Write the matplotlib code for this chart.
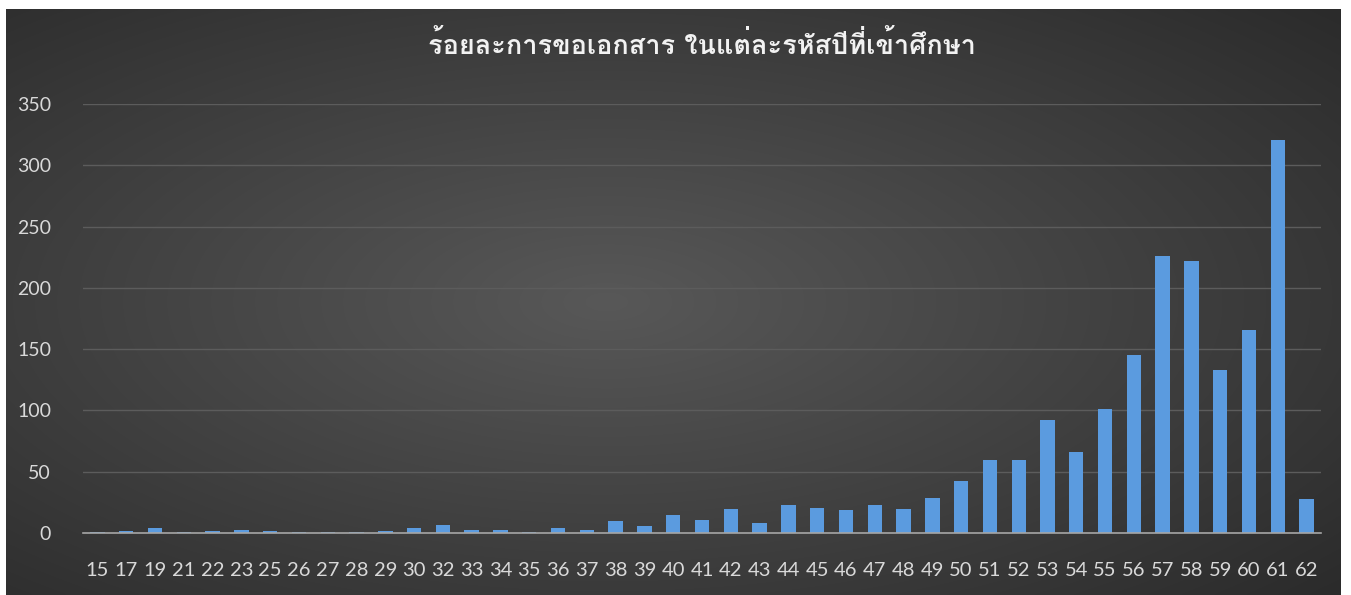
import numpy as np
import matplotlib
matplotlib.use('Agg')
import matplotlib.pyplot as plt
from matplotlib import font_manager

# student year codes and percentage of document requests
years = ['15', '17', '19', '21', '22', '23', '25', '26', '27', '28', '29', '30',
         '32', '33', '34', '35', '36', '37', '38', '39', '40', '41', '42', '43',
         '44', '45', '46', '47', '48', '49', '50', '51', '52', '53', '54', '55',
         '56', '57', '58', '59', '60', '61', '62']
values = [0.5, 1.6, 4.4, 0.5, 1.6, 2.2, 1.5, 0.5, 0.5, 0.5, 1.5, 4.2,
          6.2, 2.2, 2.2, 0.5, 3.8, 2.4, 9.8, 5.7, 14.7, 10.6, 19.8, 7.9,
          22.6, 20.4, 18.5, 22.6, 19.8, 28.5, 42.4, 59.9, 59.9, 92.5, 65.8, 101,
          145, 225.7, 221.9, 133, 166, 321, 27.7]
title = 'ร้อยละการขอเอกสาร ในแต่ละรหัสปีที่เข้าศึกษา'
yticks = [0, 50, 100, 150, 200, 250, 300, 350]


def find_thai_font():
    """Return a family name that covers Thai glyphs, or None."""
    try:
        from fontTools.ttLib import TTFont
    except Exception:
        return None
    for f in font_manager.fontManager.ttflist:
        try:
            cmap = TTFont(f.fname, fontNumber=0, lazy=True).getBestCmap()
            if cmap and 0x0E23 in cmap and 0x0E49 in cmap:
                return f.name
        except Exception:
            continue
    return None


thai = find_thai_font()
title_family = ([thai] if thai else []) + ['Lato', 'DejaVu Sans']

W, H = 1351, 595
fig = plt.figure(figsize=(W / 100, H / 100), dpi=100, facecolor='white')

# dark radial gradient background
bg = fig.add_axes([6 / W, 0, (1340 - 6) / W, (H - 9) / H])
yy, xx = np.mgrid[0:1:300j, 0:1:600j]
r = np.sqrt(((xx - 0.45) / 0.8) ** 2 + ((yy - 0.5) / 0.8) ** 2)
shade = np.clip(0.345 - 0.19 * r, 0.165, 0.345)
bg.imshow(np.dstack([shade] * 3), aspect='auto', extent=[0, 1, 0, 1],
          interpolation='bicubic')
bg.set_axis_off()

ax = fig.add_axes([83 / W, (H - 533) / H, (1321 - 83) / W, (533 - 104) / H])
ax.patch.set_alpha(0)
x = np.arange(len(years))
ax.bar(x, values, width=0.5, color='#5b9bdf', edgecolor='none', zorder=3)
ax.set_xlim(-0.5, len(years) - 0.5)
ax.set_ylim(0, 350)
ax.set_yticks(yticks)
ax.set_xticks(x)
ax.set_xticklabels(years)
ax.grid(axis='y', color='#5c5c5c', linewidth=1, zorder=0)
for s in ['top', 'right', 'left']:
    ax.spines[s].set_visible(False)
ax.spines['bottom'].set_color('#a6a6a6')
ax.spines['bottom'].set_linewidth(1.2)
ax.spines['bottom'].set_zorder(4)
ax.tick_params(axis='both', length=0, colors='#d9d9d9', labelsize=14.5)
ax.tick_params(axis='y', pad=23, labelsize=14)
ax.tick_params(axis='x', pad=21)
for lbl in ax.get_xticklabels() + ax.get_yticklabels():
    lbl.set_family(['Lato', 'DejaVu Sans'])

fig.text(702 / W, 1 - 45 / H, title, ha='center', va='center',
         color='#f2f2f2', fontsize=19.5, fontweight='bold', family=title_family)

fig.savefig('out.png', dpi=100, facecolor='white')
